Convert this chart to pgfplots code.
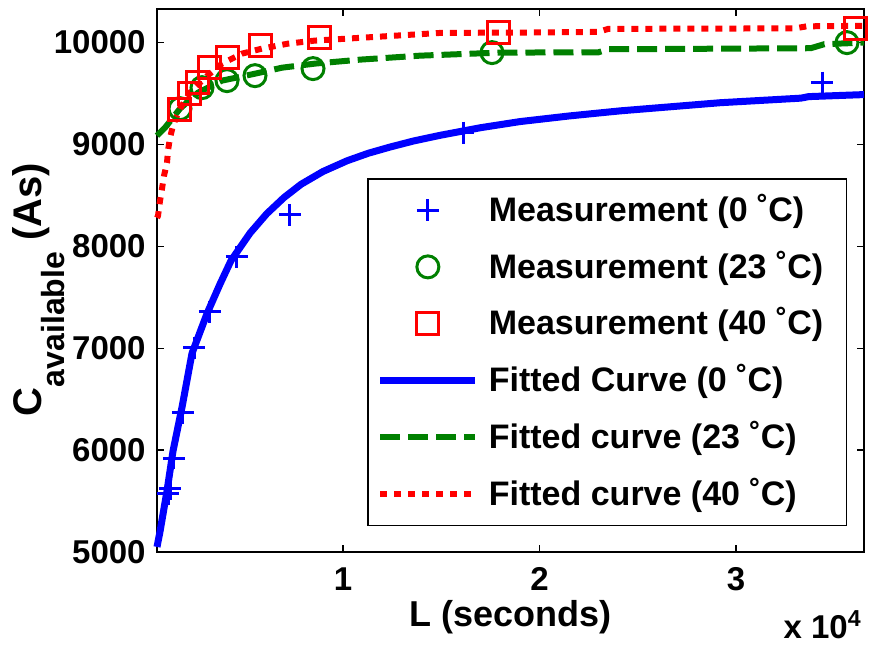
\documentclass[border=0pt]{standalone}
\usepackage{pgfplots}
\pgfplotsset{compat=1.18}
\usepackage{fontspec}
\setmainfont{Liberation Sans}
\definecolor{mblue}{RGB}{0,0,255}
\definecolor{mgreen}{RGB}{0,128,0}
\definecolor{mred}{RGB}{255,0,0}
\newcommand{\ff}{\fontsize{16.5}{19.8}\selectfont\bfseries}
\newcommand{\lgf}{\fontsize{17}{20.4}\selectfont\bfseries}
\newcommand{\lf}{\fontsize{18}{21.6}\selectfont\bfseries}
\newcommand{\pad}{\rule{5pt}{0pt}}
\pgfplotsset{
  marklegend/.style={legend image code/.code={\draw[mark repeat=2,mark phase=2,##1] plot coordinates {(0pt,0pt) (23.75pt,0pt) (47.5pt,0pt)}; \path (50.5pt,0pt);}},
  linelegend/.style={legend image code/.code={\draw[##1] (0pt,0pt) -- (47.5pt,0pt); \path (50.5pt,0pt);}},
}
\begin{document}
\ff
\begin{tikzpicture}
\begin{axis}[
  scale only axis,
  width=353.5pt, height=271.5pt,
  xmin=534, xmax=36514, ymin=5000, ymax=10330,
  axis line style={line width=0.75pt},
  every tick/.style={black, line width=0.75pt},
  tick align=inside, major tick length=3.5pt,
  xtick={10000,20000,30000}, xticklabels={1,2,3},
  ytick={5000,6000,7000,8000,9000,10000},
  yticklabels={5000,6000,7000,8000,9000,10000},
  scaled x ticks=false,
  ticklabel style={font=\ff},
  xticklabel style={yshift=-2pt},
  label style={font=\lf},
  xlabel={L (seconds)},
  xlabel style={at={(axis description cs:0.5,0)}, anchor=north, yshift=-24pt, inner sep=0pt},
  clip=false,
  legend cell align=left,
  legend style={font=\lgf, draw=black, line width=0.75pt, fill=white,
    at={(0.976,0.6885)}, anchor=north east, row sep=8.3pt,
    inner xsep=4.5pt, inner ysep=5.5pt},
]
\coordinate (SW) at (rel axis cs:0,0);
\coordinate (NE) at (rel axis cs:1,1);
\coordinate (SE) at (rel axis cs:1,0);
\coordinate (WM) at (rel axis cs:0,0.5);
% Measurements 0 C
\addplot[only marks, mark=+, mark size=5.5pt, color=mblue, line width=1.5pt, marklegend]
coordinates {
(1094,5570) (1196,5620) (1399,5920) (1857,6365) (2417,7004) (3231,7358)
(4605,7898) (7302,8310) (16107,9116) (34376,9607)
};
\addlegendentry{Measurement (0 ˚C)\pad}
% Measurements 23 C
\addplot[only marks, mark=o, mark size=5.5pt, color=mgreen, line width=1.5pt, marklegend]
coordinates {
(1704,9352) (2824,9558) (4096,9627) (5521,9676) (8473,9745) (17582,9902) (35648,10000)
};
\addlegendentry{Measurement (23 ˚C)\pad}
% Measurements 40 C
\addplot[only marks, mark=square, mark size=5.5pt, color=mred, line width=1.5pt, marklegend]
coordinates {
(1704,9342) (2213,9499) (2620,9607) (3231,9754) (4147,9853) (5776,9970)
(8829,10049) (17888,10098) (36106,10138)
};
\addlegendentry{Measurement (40 ˚C)\pad}
% Fitted 0 C
\addplot[mblue, line width=3.5pt, mark=none, linelegend]
coordinates {
(534,5050) (687,5200) (1043,5600) (1348,5990) (1806,6420) (2315,6950)
(3079,7340) (3740,7630) (4300,7860) (5267,8130) (6117,8320) (7000,8480)
(7870,8610) (8982,8735) (10203,8840) (11300,8915) (12392,8975) (13600,9035)
(14936,9090) (17000,9165) (19007,9225) (21500,9280) (24096,9330) (29185,9410)
(33300,9455) (33700,9470) (36514,9490)
};
\addlegendentry{Fitted Curve (0 ˚C)\pad}
% Fitted 23 C
\addplot[mgreen, line width=3pt, mark=none, dash pattern=on 10pt off 4pt, linelegend]
coordinates {
(534,9086) (941,9165) (1704,9352) (2620,9509) (3842,9627) (5521,9695)
(6895,9754) (8575,9794) (10865,9833) (13918,9872) (17989,9902) (23000,9905)
(23500,9935) (33800,9945) (34500,9985) (36514,10000)
};
\addlegendentry{Fitted curve (23 ˚C)\pad}
% Fitted 40 C
\addplot[mred, line width=3pt, mark=none, dash pattern=on 3.5pt off 3.5pt, linelegend]
coordinates {
(534,8280) (585,8300) (687,8448) (788,8566) (890,8693) (1043,8821) (1094,8939)
(1196,9067) (1348,9185) (1450,9234) (1704,9352) (2213,9509) (2977,9656)
(3842,9794) (4860,9892) (5877,9941) (7200,9990) (8575,10020) (14936,10095)
(20025,10100) (23000,10105) (23500,10135) (33000,10140) (33600,10160) (36514,10165)
};
\addlegendentry{Fitted curve (40 ˚C)\pad}
\end{axis}
\node[anchor=north east, inner sep=0pt] at ([shift={(-1pt,-29pt)}]SE) {x 10\textsuperscript{4}};
\node[rotate=90, anchor=base, inner sep=0pt, font=\fontsize{20}{24}\selectfont\bfseries] at ([shift={(-57.5pt,-4.5pt)}]WM)
  {C\raisebox{-11pt}{\fontsize{16}{16}\selectfont\bfseries available} (As)};
\pgfresetboundingbox
\path[use as bounding box] ([shift={(-78.5pt,-55pt)}]SW) rectangle ([shift={(2.5pt,4.5pt)}]NE);
\end{tikzpicture}
\end{document}
